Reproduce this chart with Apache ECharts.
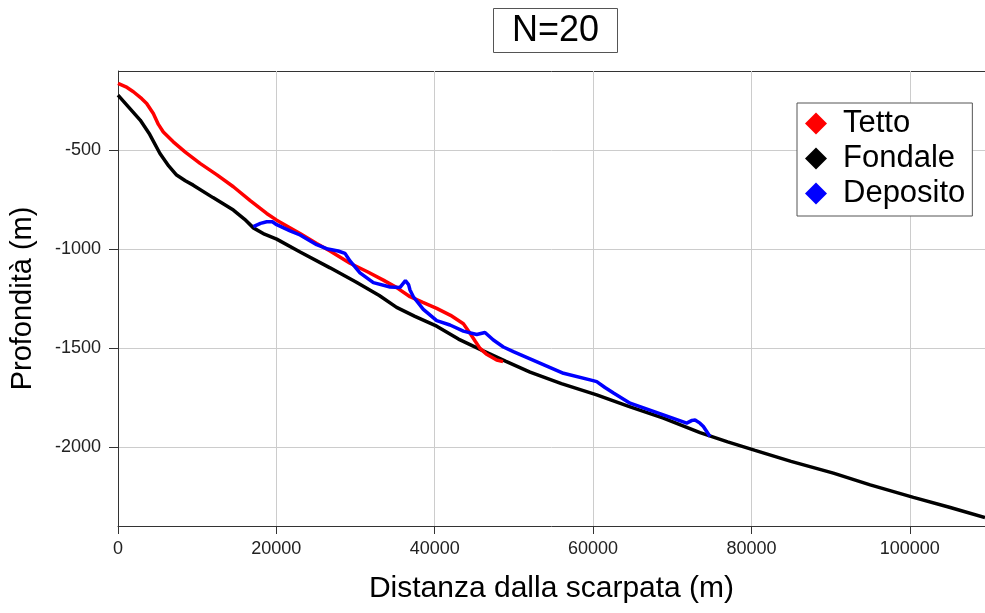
<!DOCTYPE html>
<html>
<head>
<meta charset="utf-8">
<script src="https://cdn.jsdelivr.net/npm/echarts@6/dist/echarts.min.js"></script>
<style>
  html, body { margin: 0; padding: 0; background: #fff; }
  #chart { width: 985px; height: 613px; }
</style>
</head>
<body>
<div id="chart"></div>
<script>
// Profile along the slope: roof (Tetto), sea floor (Fondale), deposit (Deposito)
const tettoX = [0, 1000, 1940, 3000, 3620, 4460, 5100, 5720, 6980, 8500, 10360, 12500, 14570, 16700, 18780, 20040, 22990, 25090, 26780, 29300, 31500, 33510, 35200, 36880, 38500, 40250, 42000, 43620, 44460, 45100, 45720, 46500, 47830, 48630];
const tettoY = [-163, -180, -205, -240, -264, -315, -370, -408, -458, -510, -567, -625, -685, -755, -820, -854, -921, -972, -1010, -1072, -1115, -1157, -1195, -1241, -1270, -1300, -1335, -1378, -1426, -1465, -1502, -1530, -1561, -1569];

const fondaleX = [0, 1400, 2800, 4000, 5300, 6400, 7400, 8500, 9500, 12000, 14570, 16000, 17100, 18500, 20040, 23000, 26780, 30000, 33000, 35190, 37500, 40250, 43000, 46130, 49000, 52040, 56000, 60460, 64500, 68880, 73510, 77000, 80460, 85000, 90350, 95000, 100460, 105000, 109500];
const fondaleY = [-222, -285, -348, -420, -517, -580, -626, -655, -677, -740, -803, -850, -893, -925, -950, -1015, -1095, -1165, -1235, -1295, -1340, -1390, -1455, -1515, -1568, -1622, -1680, -1737, -1795, -1855, -1928, -1975, -2018, -2073, -2133, -2192, -2255, -2305, -2357];

const depositoX = [17090, 18000, 18780, 19500, 20040, 21730, 22990, 25090, 26500, 27800, 28670, 29300, 30560, 32250, 34360, 35620, 36000, 36300, 36700, 36880, 37300, 38560, 40250, 41930, 43620, 45300, 46350, 47410, 48670, 50000, 52040, 56270, 60000, 60460, 61500, 62580, 64670, 68880, 71830, 72500, 72880, 73500, 73930, 74770];
const depositoY = [-887, -870, -862, -862, -877, -908, -929, -978, -1000, -1010, -1022, -1060, -1120, -1170, -1192, -1194, -1175, -1160, -1180, -1207, -1241, -1305, -1362, -1384, -1415, -1432, -1422, -1460, -1495, -1520, -1555, -1628, -1665, -1670, -1700, -1728, -1779, -1838, -1880, -1866, -1864, -1880, -1897, -1948];

const xTicks = [0, 20000, 40000, 60000, 80000, 100000];
const yTicks = [-2000, -1500, -1000, -500];

const seriesNames = ['Tetto', 'Fondale', 'Deposito'];
const seriesColors = ['#ff0000', '#000000', '#0000ff'];

function pairs(xs, ys) { return xs.map((x, i) => [x, ys[i]]); }

const FONT = '"Liberation Sans", Arial, sans-serif';
const chart = echarts.init(document.getElementById('chart'), null, { renderer: 'canvas' });

const lineSeries = [pairs(tettoX, tettoY), pairs(fondaleX, fondaleY), pairs(depositoX, depositoY)]
  .map((data, i) => ({
    name: seriesNames[i],
    type: 'line',
    data: data,
    showSymbol: false,
    symbol: 'diamond',
    z: i === 2 ? 4 : (i === 0 ? 3 : 2),
    lineStyle: { color: seriesColors[i], width: 3.5 },
    itemStyle: { color: seriesColors[i] },
    animation: false
  }));

chart.setOption({
  backgroundColor: '#fff',
  animation: false,
  title: {
    text: 'N=20',
    left: 493,
    top: 8,
    padding: [4, 19, 3, 19],
    borderWidth: 1,
    borderColor: '#555',
    textStyle: { fontFamily: FONT, fontSize: 36, fontWeight: 'normal', color: '#000', lineHeight: 38 }
  },
  legend: {
    left: 797,
    top: 103,
    orient: 'vertical',
    itemGap: 0,
    itemWidth: 22,
    itemHeight: 22,
    padding: [3, 7, 5, 8],
    borderWidth: 1,
    borderColor: '#555',
    backgroundColor: '#fff',
    icon: 'diamond',
    data: seriesNames.map((n, i) => ({ name: n, itemStyle: { color: seriesColors[i] } })),
    textStyle: { fontFamily: FONT, fontSize: 31, lineHeight: 35, color: '#000', padding: [0, 0, 0, 11] }
  },
  grid: { left: 118, top: 71, right: 0, bottom: 87, containLabel: false, outerBoundsMode: 'none' },
  xAxis: {
    type: 'value',
    min: 0,
    max: 109500,
    name: 'Distanza dalla scarpata (m)',
    nameLocation: 'middle',
    nameGap: 48,
    nameTextStyle: { fontFamily: FONT, fontSize: 30, color: '#000' },
    axisLine: { show: true, lineStyle: { color: '#333', width: 1 } },
    axisTick: { show: true, length: 8, customValues: xTicks, lineStyle: { color: '#333' } },
    axisLabel: { customValues: xTicks, fontFamily: FONT, fontSize: 18, color: '#222', margin: 14,
      formatter: v => String(v) },
    splitLine: { show: true, lineStyle: { color: '#cccccc', width: 1 } }
  },
  yAxis: {
    type: 'value',
    min: -2400,
    max: -100,
    name: 'Profondità (m)',
    nameLocation: 'middle',
    nameGap: 81,
    nameRotate: 90,
    nameTextStyle: { fontFamily: FONT, fontSize: 29, color: '#000' },
    axisLine: { show: true, onZero: false, lineStyle: { color: '#333', width: 1 } },
    axisTick: { show: true, length: 9, customValues: yTicks, lineStyle: { color: '#333' } },
    axisLabel: { customValues: yTicks, fontFamily: FONT, fontSize: 18, color: '#222', margin: 17,
      formatter: v => String(v) },
    splitLine: { show: true, lineStyle: { color: '#cccccc', width: 1 } }
  },
  graphic: [{
    type: 'line',
    shape: { x1: 118, y1: 71.5, x2: 985, y2: 71.5 },
    style: { stroke: '#333', lineWidth: 1 },
    silent: true
  }],
  series: lineSeries
});
</script>
</body>
</html>
